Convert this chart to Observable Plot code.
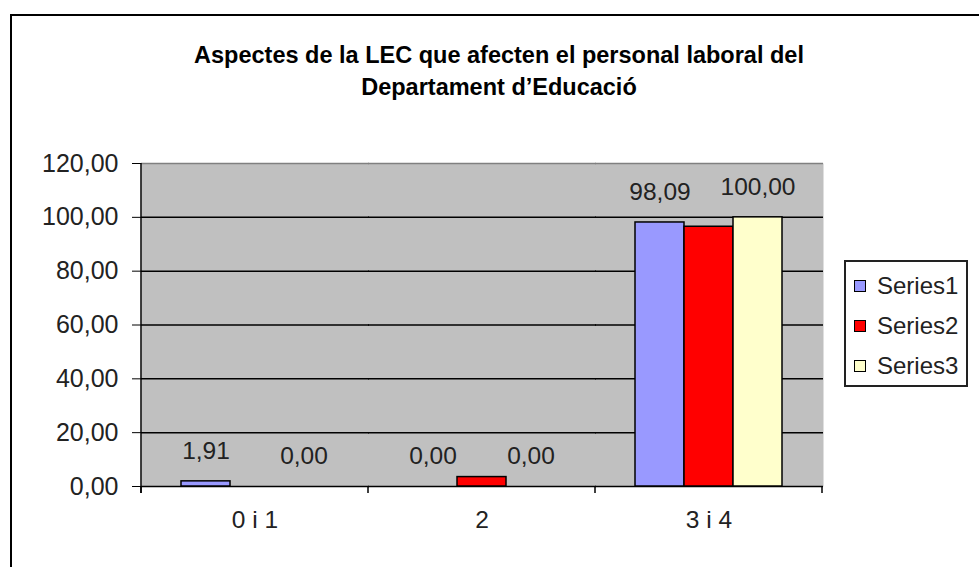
<!DOCTYPE html>
<html>
<head>
<meta charset="utf-8">
<script src="https://cdn.jsdelivr.net/npm/d3@7"></script>
<script src="https://cdn.jsdelivr.net/npm/@observablehq/plot@0.6"></script>
<style>
  html, body { margin: 0; padding: 0; background: #fff; overflow: hidden; }
  #wrap { position: relative; width: 979px; height: 567px; font-family: "Liberation Sans", Arial, sans-serif; }
  #outer { position: absolute; left: 10px; top: 14px; width: 1000px; height: 600px; border: 2px solid #000; box-sizing: border-box; }
  #title { position: relative; box-sizing: border-box; width: 979px; height: 140px; padding-top: 39px; padding-left: 19px;
           text-align: center; font-weight: bold; font-size: 23.5px; line-height: 32px; color: #000; }
  #chart { position: relative; }
  #legend { position: absolute; left: 844px; top: 260px; width: 124px; height: 127px; box-sizing: border-box;
            border: 2px solid #222; background: #fff; font-size: 24px; color: #222; }
  .item { position: absolute; left: 8px; height: 30px; line-height: 30px; white-space: nowrap; }
  .sw { position: absolute; left: 0; top: 9px; width: 10px; height: 10px; border: 1.5px solid #000; }
  .lab { position: absolute; left: 23px; top: 0; }
</style>
</head>
<body>
<div id="wrap">
  <div id="outer"></div>
  <div id="title">Aspectes de la LEC que afecten el personal laboral del<br>Departament d’Educació</div>
  <div id="chart"></div>
  <div id="legend"></div>
</div>
<script>
const categories = ["0 i 1", "2", "3 i 4"];
const seriesNames = ["Series1", "Series2", "Series3"];
const seriesColors = ["#9999FF", "#FF0000", "#FFFFCC"];
const series1 = [1.91, 0, 98.09];
const series2 = [0, 3.5, 96.5];
const series3 = [0, 0, 100];
const labeledSeries = ["Series1", "Series3"];
const yTicks = [0, 20, 40, 60, 80, 100, 120];

const seriesValues = [series1, series2, series3];
const rows = [];
categories.forEach((c, i) => {
  seriesNames.forEach((s, j) => rows.push({cat: c, series: s, value: seriesValues[j][i]}));
});
const fmt = v => v.toFixed(2).replace(".", ",");
const font = '"Liberation Sans", Arial, sans-serif';

const chart = Plot.plot({
  width: 840,
  height: 427,
  marginTop: 23,
  marginBottom: 81,
  marginLeft: 141,
  marginRight: 18,
  style: {fontFamily: font, fontSize: "24px", color: "#222", background: "transparent"},
  fx: {domain: categories, padding: 0, label: null, axis: null},
  x: {domain: seriesNames, paddingInner: 0, paddingOuter: 0.775, axis: null},
  y: {domain: [yTicks[0], yTicks[yTicks.length - 1]], axis: null},
  color: {domain: seriesNames, range: seriesColors},
  marks: [
    Plot.frame({fill: "#C0C0C0", stroke: null, insetRight: -1}),
    Plot.ruleY(yTicks.slice(0, -1), {stroke: "#000", strokeWidth: 1.5, insetRight: -1}),
    Plot.ruleY(yTicks.slice(-1), {stroke: "#808080", strokeWidth: 1.5, insetRight: -1}),
    Plot.barY(rows, {fx: "cat", x: "series", y: "value", fill: "series", stroke: "#000", strokeWidth: 1.5}),
    Plot.text(rows.filter(d => labeledSeries.includes(d.series)), {
      fx: "cat", x: "series", y: "value", text: d => fmt(d.value), dy: -30, fontSize: 24.5, fill: "#222"
    }),
    Plot.axisY(yTicks, {tickSize: 9, tickPadding: 14, tickFormat: fmt, fontSize: 25, label: null, stroke: "#000", fill: "#222"}),
    Plot.axisFx({anchor: "bottom", tickSize: 0, tickPadding: 24, fontSize: 24.5, label: null, fill: "#222"})
  ]
});
document.getElementById("chart").appendChild(chart);

// axis line and category boundary ticks from the fx scale
try {
  const fx = chart.scale("fx");
  const y = chart.scale("y");
  const svg = d3.select(chart.tagName.toLowerCase() === "svg" ? chart : chart.querySelector("svg"));
  const y0 = y.apply(yTicks[0]);
  const yTop = y.apply(yTicks[yTicks.length - 1]);
  const bounds = categories.map(c => fx.apply(c)).concat([fx.apply(categories[categories.length - 1]) + fx.bandwidth]);
  const g = svg.append("g").attr("stroke", "#000").attr("stroke-width", 1.5);
  g.append("line").attr("x1", bounds[0]).attr("x2", bounds[0]).attr("y1", yTop).attr("y2", y0 + 7);
  bounds.forEach(b => g.append("line").attr("x1", b).attr("x2", b).attr("y1", y0).attr("y2", y0 + 7));
} catch (e) { console.error(e); }

// legend
const legend = document.getElementById("legend");
seriesNames.forEach((s, i) => {
  const it = document.createElement("div");
  it.className = "item";
  it.style.top = (9 + i * 40) + "px";
  it.innerHTML = `<span class="sw" style="background:${seriesColors[i]}"></span><span class="lab">${s}</span>`;
  legend.appendChild(it);
});
</script>
</body>
</html>
